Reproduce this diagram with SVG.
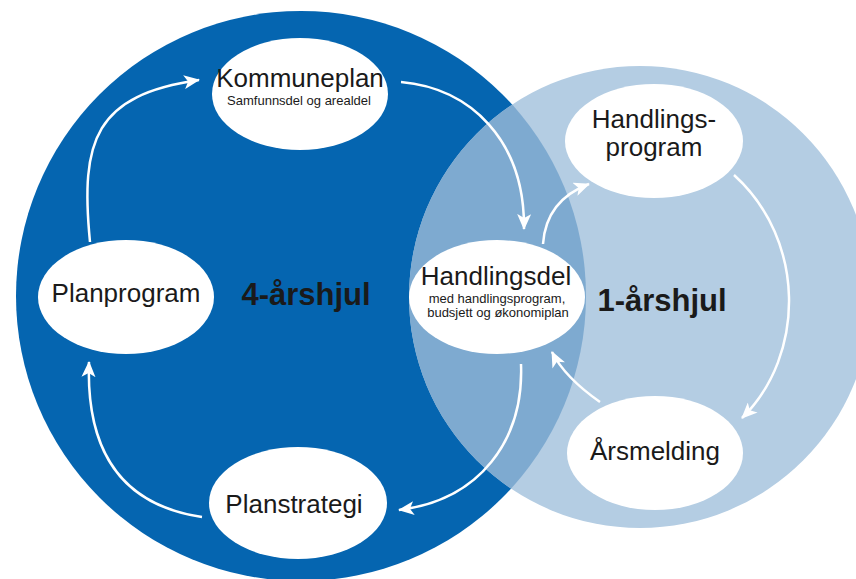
<svg xmlns="http://www.w3.org/2000/svg" width="856" height="579" viewBox="0 0 856 579">
<style>
.node{fill:#ffffff}
.t{font-family:"Liberation Sans",Arial,sans-serif;fill:#1a1a1a;text-anchor:middle}
.big{font-size:26px}
.small{font-size:13px}
.lbl{font-family:"Liberation Sans",Arial,sans-serif;font-weight:bold;font-size:31px;fill:#1a1a1a;text-anchor:middle}
.c{fill:none;stroke:#ffffff;stroke-width:2.5;marker-end:url(#ah)}
</style>
<defs>
<marker id="ah" markerUnits="userSpaceOnUse" viewBox="0 0 16 14" refX="15" refY="7" markerWidth="16" markerHeight="14" orient="auto">
<path d="M0,0 L16,7 L0,14 L4,7 z" fill="#ffffff"/>
</marker>
<clipPath id="darkclip"><circle cx="301" cy="296" r="285"/></clipPath>
</defs>
<rect width="856" height="579" fill="#ffffff"/>
<g id="wheel4">
<circle cx="301" cy="296" r="285" fill="#0565b0"/>
</g>
<g id="wheel1">
<circle cx="640" cy="297" r="231" fill="#b4cde3"/>
<circle cx="640" cy="297" r="231" fill="#7eaad0" clip-path="url(#darkclip)"/>
</g>
<g id="connectors">
<path class="c" d="M90,242 C80,140 95,95 199,80"/>
<path class="c" d="M401,82 C470,88 525,140 524,229"/>
<path class="c" d="M521,364 C524,440 480,500 399,510"/>
<path class="c" d="M202,517 C120,505 86,450 89,362"/>
<path class="c" d="M543,244 C545,215 560,195 589,184"/>
<path class="c" d="M734,175 C806,240 806,355 742,418"/>
<path class="c" d="M600,402 C580,388 562,372 552,352"/>
</g>
<g id="kommuneplan">
<ellipse class="node" cx="300" cy="94" rx="88" ry="56"/>
<text class="t big" x="300" y="87">Kommuneplan</text>
<text class="t small" x="299" y="105">Samfunnsdel og arealdel</text>
</g>
<g id="planprogram">
<ellipse class="node" cx="126" cy="297" rx="88" ry="57"/>
<text class="t big" x="126" y="302">Planprogram</text>
</g>
<g id="planstrategi">
<ellipse class="node" cx="298" cy="503" rx="89" ry="56"/>
<text class="t big" x="294" y="513">Planstrategi</text>
</g>
<g id="handlingsdel">
<ellipse class="node" cx="497" cy="297" rx="88" ry="57"/>
<text class="t big" x="496" y="285">Handlingsdel</text>
<text class="t small" x="497" y="303">med handlingsprogram,</text>
<text class="t small" x="498" y="317">budsjett og økonomiplan</text>
</g>
<g id="handlingsprogram">
<ellipse class="node" cx="654" cy="141" rx="89" ry="57"/>
<text class="t big" x="654" y="128">Handlings-</text>
<text class="t big" x="654" y="156">program</text>
</g>
<g id="arsmelding">
<ellipse class="node" cx="655" cy="453" rx="88" ry="57"/>
<text class="t big" x="655" y="460">Årsmelding</text>
</g>
<g id="labels">
<text class="lbl" x="306" y="305">4-årshjul</text>
<text class="lbl" x="662" y="311">1-årshjul</text>
</g>
</svg>
